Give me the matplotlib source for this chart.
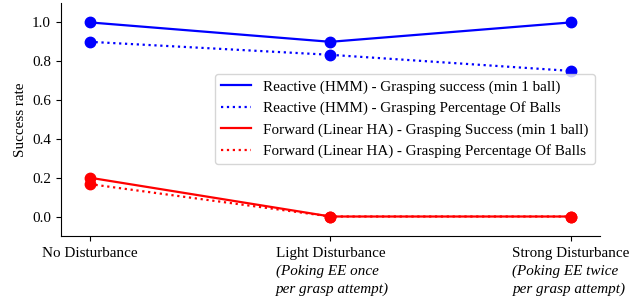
import matplotlib
matplotlib.use("Agg")
import matplotlib.pyplot as plt

plt.rcParams['font.family'] = ['Liberation Serif', 'DejaVu Serif']

categories = ["No Disturbance", "Light Disturbance", "Strong Disturbance"]
subtitles = [[], ["(Poking EE once", "per grasp attempt)"], ["(Poking EE twice", "per grasp attempt)"]]
reactive_success = [1.0, 0.9, 1.0]
reactive_pct = [0.9, 0.833, 0.75]
forward_success = [0.2, 0.0, 0.0]
forward_pct = [0.167, 0.0, 0.0]

series = [
    (reactive_success, 'blue', '-', "Reactive (HMM) - Grasping success (min 1 ball)"),
    (reactive_pct, 'blue', ':', "Reactive (HMM) - Grasping Percentage Of Balls"),
    (forward_success, 'red', '-', "Forward (Linear HA) - Grasping Success (min 1 ball)"),
    (forward_pct, 'red', ':', "Forward (Linear HA) - Grasping Percentage Of Balls"),
]

FS = 10.9
W, H = 640, 299
fig = plt.figure(figsize=(W / 100, H / 100), dpi=100)
ax = fig.add_axes([0.095, 0.211, 0.8425, 0.779])
x = list(range(len(categories)))
for vals, c, ls, lab in series:
    ax.plot(x, vals, color=c, linestyle=ls, linewidth=1.6, label=lab)
    ax.plot(x, vals, color=c, linestyle='none', marker='o', markersize=7.5)

ax.set_xticks(x)
ax.set_xticklabels(categories, fontsize=FS)
ax.tick_params(axis='x', pad=4.5)
ax.set_xlim(-0.12, 2.12)
ax.set_ylim(-0.1, 1.1)
ax.set_yticks([0.0, 0.2, 0.4, 0.6, 0.8, 1.0])
ax.tick_params(axis='y', labelsize=FS)
ax.set_ylabel("Success rate", fontsize=FS)
ax.spines['top'].set_visible(False)
ax.spines['right'].set_visible(False)

ax.legend(loc='upper right', bbox_to_anchor=(0.99, 0.695), fontsize=FS,
          handlelength=2.0, borderaxespad=0)

fig.canvas.draw()
renderer = fig.canvas.get_renderer()
baselines_px = [275, 293]  # from top of image
for lbl, subs in zip(ax.get_xticklabels(), subtitles):
    if not subs:
        continue
    bb = lbl.get_window_extent(renderer)
    for line, by in zip(subs, baselines_px):
        fig.text(bb.x0 / W, (H - by) / H, line, ha='left', va='baseline',
                 fontsize=FS, style='italic')

fig.savefig("out.png", dpi=100)
